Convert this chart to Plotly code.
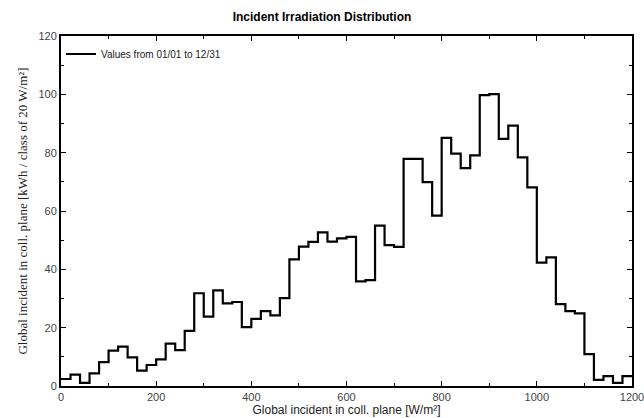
import plotly.graph_objects as go

bin_width = 20
bin_starts = list(range(0, 1200, bin_width))
values = [2.4, 3.9, 1.1, 4.3, 8.2, 12.1, 13.5, 9.8, 5.3, 7.2,
          9.1, 14.5, 12.3, 18.9, 31.8, 23.8, 32.8, 28.3, 28.8, 20.2,
          23.0, 25.7, 24.2, 30.1, 43.4, 47.8, 49.4, 52.7, 49.5, 50.6,
          51.1, 35.9, 36.3, 55.0, 48.3, 47.7, 77.9, 77.9, 69.9, 58.4,
          85.1, 79.7, 74.7, 79.1, 99.7, 100.1, 84.7, 89.3, 78.4, 68.1,
          42.3, 44.1, 28.1, 25.7, 24.9, 10.9, 2.1, 3.4, 1.1, 3.4]
series_name = "Values from 01/01 to 12/31"
title = "Incident Irradiation Distribution"
x_title = "Global incident in coll. plane [W/m²]"
y_title = "Global incident in coll. plane [kWh / class of 20 W/m²]"

xs = bin_starts + [bin_starts[-1] + bin_width]
ys = values + [values[-1]]

fig = go.Figure()
fig.add_trace(go.Scatter(x=xs, y=ys, mode="lines", line=dict(shape="hv", color="black", width=2.2),
                         name=series_name, showlegend=True))

axis_common = dict(showline=True, linecolor="black", linewidth=2, mirror="allticks",
                   ticks="inside", ticklen=5, tickcolor="black", tickwidth=1,
                   showgrid=False, zeroline=False, automargin=False,
                   ticklabeloverflow="allow",
                   tickfont=dict(family="Liberation Sans, Arial", size=11, color="#444"))

fig.update_xaxes(range=[0, 1200], dtick=200, tick0=0,
                 minor=dict(dtick=100, ticks="inside", ticklen=3, tickcolor="black", showgrid=False),
                 title=dict(text=x_title, font=dict(family="Liberation Sans, Arial", size=12, color="#222"), standoff=0),
                 **axis_common)
fig.update_yaxes(range=[0, 120], dtick=20, tick0=0,
                 minor=dict(dtick=10, ticks="inside", ticklen=3, tickcolor="black", showgrid=False),
                 title=dict(text=y_title, font=dict(family="Liberation Serif, Times New Roman", size=13, color="#222"), standoff=8),
                 **axis_common)

fig.update_layout(
    width=644, height=418,
    margin=dict(l=61, r=12, t=36, b=32, autoexpand=False),
    paper_bgcolor="white", plot_bgcolor="white",
    title=dict(text="<b>" + title + "</b>", x=0.5, xanchor="center", y=0.96, yanchor="middle",
               font=dict(family="Liberation Sans, Arial", size=12, color="black")),
    legend=dict(x=0.0, y=0.99, xanchor="left", yanchor="top", bgcolor="rgba(0,0,0,0)",
                font=dict(family="Liberation Sans, Arial", size=10, color="#222")),
    showlegend=True,
)

fig.write_html("out.html")
